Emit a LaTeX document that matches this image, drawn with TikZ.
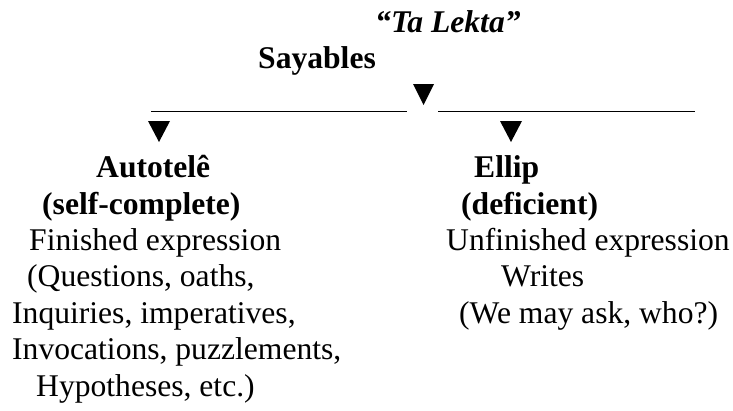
\documentclass[tikz,border=0pt]{standalone}
\usepackage{fontspec}
\setmainfont{Liberation Serif}
\begin{document}
\begin{tikzpicture}[x=1pt,y=-1pt,
  txt/.style={anchor=base west,inner sep=0pt,font=\fontsize{31.6}{36.4}\selectfont},
  boldtxt/.style={txt,font=\fontsize{31.6}{36.4}\selectfont\bfseries},
  bitxt/.style={txt,font=\fontsize{31.6}{36.4}\selectfont\bfseries\itshape},
  tri/.style={fill=black},
  rulebar/.style={line width=1.6pt}]
\useasboundingbox (0,0) rectangle (733,410);
% titles
\node[bitxt] (lekta) at (375,32) {“Ta Lekta”};
\node[boldtxt] (say) at (258,68.4) {Sayables};
% branch bar
\coordinate (l1) at (151,111.5);
\coordinate (l2) at (407,111.5);
\coordinate (r1) at (438,111.5);
\coordinate (r2) at (695,111.5);
\draw[rulebar] (l1) -- (l2);
\draw[rulebar] (r1) -- (r2);
\fill[tri] (413,84) -- (434,84) -- (423.5,105) -- cycle;
\fill[tri] (148,121) -- (170,121) -- (159,142) -- cycle;
\fill[tri] (500,121) -- (522,121) -- (511,142) -- cycle;
% left column
\node[boldtxt] (auto) at (96,177.6) {Autotelê};
\node[boldtxt] (selfc) at (42,214) {(self-complete)};
\node[txt] (fin) at (29,250.4) {Finished expression};
\node[txt] (quest) at (27,286.8) {(Questions, oaths,};
\node[txt] (inq) at (12,323.2) {Inquiries, imperatives,};
\node[txt] (invoc) at (12,359.6) {Invocations, puzzlements,};
\node[txt] (hyp) at (36,396) {Hypotheses, etc.)};
% right column
\node[boldtxt] (ellip) at (474,177.6) {Ellip};
\node[boldtxt] (defic) at (461,214) {(deficient)};
\node[txt] (unfin) at (446,250.4) {Unfinished expression};
\node[txt] (writes) at (501,286.8) {Writes};
\node[txt] (ask) at (459,323.2) {(We may ask, who?)};
\end{tikzpicture}
\end{document}
